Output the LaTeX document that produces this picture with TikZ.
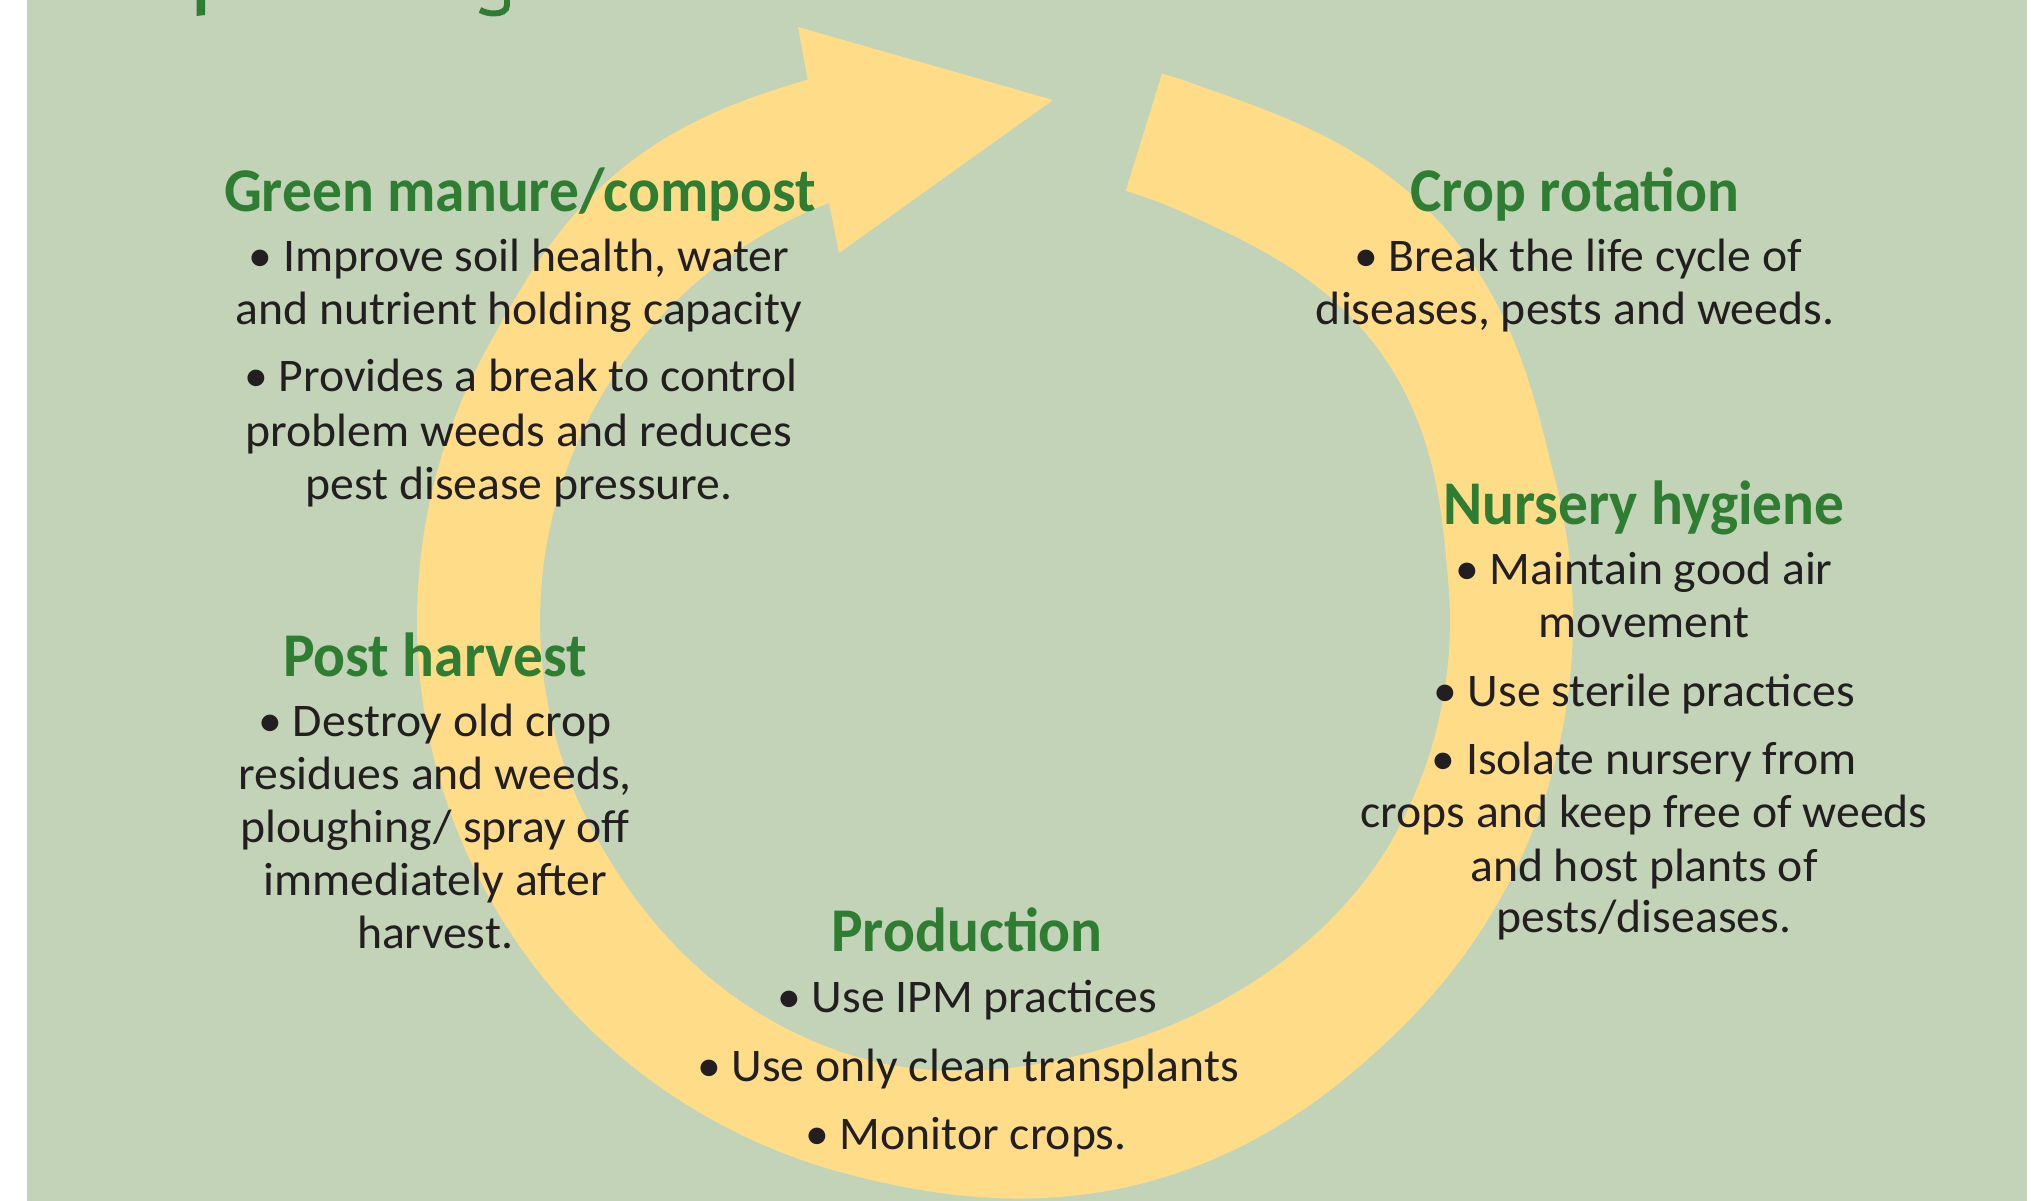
\documentclass[tikz,border=0pt]{standalone}
\usepackage{fontspec}
\setmainfont{Carlito}[FakeStretch=1.02]
\newfontfamily\ttlfont{Carlito}[FakeStretch=0.955]
\definecolor{bg}{HTML}{C2D3B8}
\definecolor{band}{HTML}{FFDD88}
\definecolor{leaf}{HTML}{2F7D32}
\definecolor{ink}{HTML}{231F20}
\begin{document}
\begin{tikzpicture}[x=0.01cm,y=-0.01cm,
  declare function={
    hump(\t,\c,\w)=max(0,1-((\t-\c)/\w)*((\t-\c)/\w));
    ro(\t)=22*hump(\t,42,28)*hump(\t,42,28)+12*hump(\t,-231,22)*hump(\t,-231,22)+9*hump(\t,-75,30)*hump(\t,-75,30);
    ri(\t)=17*hump(\t,395,30)*hump(\t,395,30)-9*hump(\t,292,40)*hump(\t,292,40)+8*hump(\t,248,40)*hump(\t,248,40);
  },
  body/.style={anchor=base,inner sep=0pt,text=ink,font=\fontsize{13.3}{16}\selectfont},
  ttl/.style={anchor=base,inner sep=0pt,text=leaf,font=\ttlfont\fontsize{17.7}{21}\selectfont\bfseries}]
\useasboundingbox (0,0) rectangle (2041,1201);
\fill[white] (0,0) rectangle (2041,1201);
\fill[bg] (27,0) rectangle (2027,1201);
% title fragments
\fill[leaf] (196.7,0) -- (205,0) -- (205,15) -- (196.7,16) -- cycle;
\draw[leaf, line width=1.7pt] (507,0) -- (507,5) .. controls (507,11) and (501,13.5) .. (494,13.5) .. controls (488,13.5) and (484,12) .. (480,10);
% cycle arrow
\fill[band]
  plot[domain=73.2:-251.1, samples=220, variable=\t] ({995+(578+ro(\t))*cos(\t)}, {621-(572+ro(\t))*sin(\t)})
  -- (798,27) -- (1053,100) -- (839,253)
  -- plot[domain=111.4:433.3, samples=220, variable=\t] ({995+(455+ri(\t))*cos(\t)}, {621-(449+ri(\t))*sin(\t)})
  -- cycle;
% Green manure/compost
\node[ttl]  (gm0) at (520,212) {Green manure/compost};
\node[body] (gm1) at (519,272) {• Improve soil health, water};
\node[body] (gm2) at (519,325) {and nutrient holding capacity};
\node[body] (gm3) at (521,392) {• Provides a break to control};
\node[body] (gm4) at (519,447) {problem weeds and reduces};
\node[body] (gm5) at (519,500) {pest disease pressure.};
% Crop rotation
\node[ttl]  (cr0) at (1575,212) {Crop rotation};
\node[body] (cr1) at (1578,272) {• Break the life cycle of};
\node[body] (cr2) at (1575,325) {diseases, pests and weeds.};
% Nursery hygiene
\node[ttl]  (nh0) at (1644,525) {Nursery hygiene};
\node[body] (nh1) at (1644,585) {• Maintain good air};
\node[body] (nh2) at (1644,638) {movement};
\node[body] (nh3) at (1644,707) {• Use sterile practices};
\node[body] (nh4) at (1644,775) {• Isolate nursery from};
\node[body] (nh5) at (1644,828) {crops and keep free of weeds};
\node[body] (nh6) at (1644,882) {and host plants of};
\node[body] (nh7) at (1644,933) {pests/diseases.};
% Post harvest
\node[ttl]  (ph0) at (435,677) {Post harvest};
\node[body] (ph1) at (435,737) {• Destroy old crop};
\node[body] (ph2) at (435,790) {residues and weeds,};
\node[body] (ph3) at (435,843) {ploughing/ spray off};
\node[body] (ph4) at (435,896) {immediately after};
\node[body] (ph5) at (435,949) {harvest.};
% Production
\node[ttl]  (pr0) at (967,952) {Production};
\node[body] (pr1) at (967,1013) {• Use IPM practices};
\node[body] (pr2) at (968,1082) {• Use only clean transplants};
\node[body] (pr3) at (966,1150) {• Monitor crops.};
\end{tikzpicture}
\end{document}
